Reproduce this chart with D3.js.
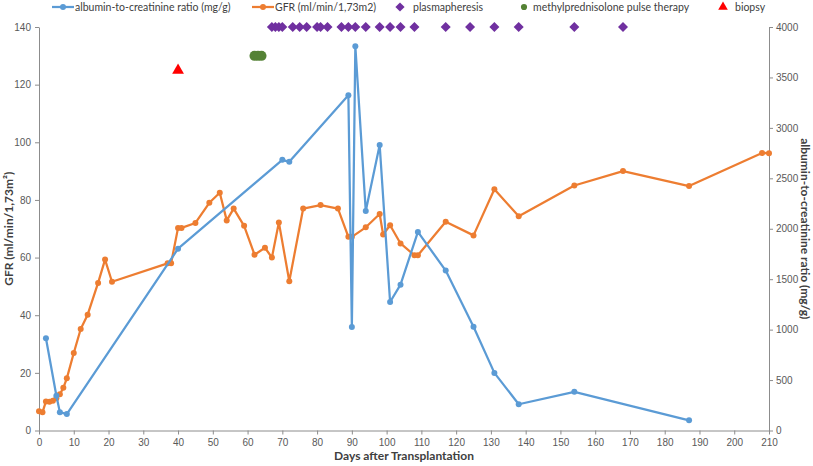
<!DOCTYPE html>
<html>
<head>
<meta charset="utf-8">
<script src="https://cdn.jsdelivr.net/npm/d3@7"></script>
<style>
  html, body { margin: 0; padding: 0; background: #fff; }
  svg { display: block; font-family: Lato, 'Liberation Sans', sans-serif; }
  .eje path, .eje line { stroke: #8c8c8c; }
  .eje text { fill: #595959; font-size: 10px; }
  .titulo-eje { fill: #404040; font-size: 12px; font-weight: bold; }
  .leyenda text { fill: #404040; font-size: 10.5px; }
</style>
</head>
<body>
<div id="graf"></div>
<script>
// I. Datos
// albumin-to-creatinine ratio (mg/g), eje derecho
acrDays   = [2, 5, 6, 8, 40, 70, 72, 89, 90, 91, 94, 98, 101, 104, 109, 117, 125, 131, 138, 154, 187]
acrValues = [914, 345, 182, 163, 1802, 2683, 2663, 3324, 1025, 3810, 2175, 2830, 1274, 1446, 1969, 1585, 1029, 571, 260, 383, 101]

// GFR (ml/min/1,73m2), eje izquierdo
gfrDays   = [0, 1, 2, 3, 4, 5, 6, 7, 8, 10, 12, 14, 17, 19, 21, 37, 38, 40, 41, 45, 49, 52, 54, 56, 59, 62, 65, 67, 69, 72,
             76, 81, 86, 89, 90, 94, 98, 99, 101, 104, 108, 109, 117, 125, 131, 138, 154, 168, 187, 208, 210]
gfrValues = [6.7, 6.3, 10.1, 10.0, 10.3, 11.2, 12.6, 14.8, 18.1, 26.9, 35.2, 40.2, 51.2, 59.3, 51.6, 58, 58, 70.3, 70.3, 72, 79, 82.5, 72.9, 77, 71, 61, 63.4, 60, 72.2, 51.8,
             77, 78.2, 77, 67.2, 67.2, 70.5, 75.1, 68, 71.2, 64.9, 60.8, 60.8, 72.4, 67.7, 83.7, 74.3, 85, 90, 84.8, 96.3, 96.2]

// eventos (nivel en el eje izquierdo)
plasmaDays = [67, 68, 69, 70, 73, 75, 77, 80, 81, 83, 87, 89, 91, 94, 98, 101, 104, 108, 117, 124, 131, 138, 154, 168]
plasmaLevel = 140
mpDays = [62, 63, 64]
mpLevel = 130
biopsyDays = [40]
biopsyLevel = 125

// ticks
xTicks   = [0, 10, 20, 30, 40, 50, 60, 70, 80, 90, 100, 110, 120, 130, 140, 150, 160, 170, 180, 190, 200, 210]
gfrTicks = [0, 20, 40, 60, 80, 100, 120, 140]
acrTicks = [0, 500, 1000, 1500, 2000, 2500, 3000, 3500, 4000]

// II. Configuración
ancho_total = 813
alto_total = 466
margins = { top: 27, left: 39, right: 44, bottom: 35.5 }
ancho = ancho_total - margins.left - margins.right
alto  = alto_total - margins.top - margins.bottom

azul = '#5b9bd5'
naranja = '#ed7d31'
morado = '#7030a0'
verde = '#548235'
rojo = '#ff0000'

svg = d3.select('#graf').append('svg')
        .attr('width', ancho_total)
        .attr('height', alto_total)

g = svg.append('g')
       .attr('transform', `translate(${ margins.left }, ${ margins.top })`)

x = d3.scaleLinear().domain([0, 210]).range([0, ancho])
yL = d3.scaleLinear().domain([0, 140]).range([alto, 0])
yR = d3.scaleLinear().domain([0, 4000]).range([alto, 0])

// III. Ejes
xAxisGroup = g.append('g')
              .attr('class', 'eje')
              .attr('transform', `translate(0, ${ alto })`)
              .call(d3.axisBottom(x).tickValues(xTicks).tickSizeInner(4).tickSizeOuter(0).tickPadding(4))
yAxisGroup = g.append('g')
              .attr('class', 'eje')
              .call(d3.axisLeft(yL).tickValues(gfrTicks).tickSizeInner(4).tickSizeOuter(0).tickPadding(4))
y2AxisGroup = g.append('g')
              .attr('class', 'eje')
              .attr('transform', `translate(${ ancho }, 0)`)
              .call(d3.axisRight(yR).tickValues(acrTicks).tickFormat(d3.format('d'))
                      .tickSizeInner(4).tickSizeOuter(0).tickPadding(3))

svg.append('text')
   .attr('class', 'titulo-eje')
   .attr('x', margins.left + ancho / 2)
   .attr('y', 460)
   .attr('text-anchor', 'middle')
   .text('Days after Transplantation')

svg.append('text')
   .attr('class', 'titulo-eje')
   .attr('transform', `translate(13, ${ margins.top + alto / 2 }) rotate(-90)`)
   .attr('text-anchor', 'middle')
   .text('GFR (ml/min/1,73m²)')

svg.append('text')
   .attr('class', 'titulo-eje')
   .attr('transform', `translate(801, ${ margins.top + alto / 2 }) rotate(90)`)
   .attr('text-anchor', 'middle')
   .text('albumin-to-creatinine ratio (mg/g)')

// IV. Series
gfrData = gfrDays.map((d, i) => ({ dia: d, valor: gfrValues[i] }))
acrData = acrDays.map((d, i) => ({ dia: d, valor: acrValues[i] }))

plot = g.append('g')

function serie(data, escala, color) {
  linea = d3.line().x(d => x(d.dia)).y(d => escala(d.valor))
  plot.append('path')
      .datum(data)
      .attr('d', linea)
      .attr('fill', 'none')
      .attr('stroke', color)
      .attr('stroke-width', 2.25)
      .attr('stroke-linejoin', 'round')
  plot.append('g')
      .selectAll('circle')
      .data(data)
      .enter()
      .append('circle')
        .attr('cx', d => x(d.dia))
        .attr('cy', d => escala(d.valor))
        .attr('r', 3)
        .attr('fill', color)
}

serie(gfrData, yL, naranja)
serie(acrData, yR, azul)

// eventos
rombo = d3.symbol().type(d3.symbolDiamond2).size(64)
circulo = d3.symbol().type(d3.symbolCircle).size(80)
triangulo = d3.symbol().type(d3.symbolTriangle).size(60)

plot.append('g').selectAll('path')
    .data(plasmaDays)
    .enter().append('path')
      .attr('d', rombo)
      .attr('transform', d => `translate(${ x(d) }, ${ yL(plasmaLevel) })`)
      .attr('fill', morado)

plot.append('g').selectAll('path')
    .data(mpDays)
    .enter().append('path')
      .attr('d', circulo)
      .attr('transform', d => `translate(${ x(d) }, ${ yL(mpLevel) })`)
      .attr('fill', verde)

plot.append('g').selectAll('path')
    .data(biopsyDays)
    .enter().append('path')
      .attr('d', triangulo)
      .attr('transform', d => `translate(${ x(d) }, ${ yL(biopsyLevel) })`)
      .attr('fill', rojo)

// V. Leyenda
leyenda = svg.append('g').attr('class', 'leyenda')
ly = 7

function itemLinea(cx, color, texto) {
  leyenda.append('line')
         .attr('x1', cx - 11).attr('x2', cx + 11)
         .attr('y1', ly).attr('y2', ly)
         .attr('stroke', color).attr('stroke-width', 2.25)
  leyenda.append('circle').attr('cx', cx).attr('cy', ly).attr('r', 3).attr('fill', color)
  leyenda.append('text').attr('x', cx + 12).attr('y', ly).attr('dy', '0.35em').text(texto)
}

function itemSimbolo(cx, simbolo, color, texto, tx) {
  leyenda.append('path')
         .attr('d', simbolo)
         .attr('transform', `translate(${ cx }, ${ ly })`)
         .attr('fill', color)
  leyenda.append('text').attr('x', tx).attr('y', ly).attr('dy', '0.35em').text(texto)
}

itemLinea(63, azul, 'albumin-to-creatinine ratio (mg/g)')
itemLinea(263, naranja, 'GFR (ml/min/1,73m2)')
itemSimbolo(400, d3.symbol().type(d3.symbolDiamond2).size(54), morado, 'plasmapheresis', 413)
itemSimbolo(524, d3.symbol().type(d3.symbolCircle).size(30), verde, 'methylprednisolone pulse therapy', 533)
itemSimbolo(723, d3.symbol().type(d3.symbolTriangle).size(40), rojo, 'biopsy', 735)
</script>
</body>
</html>
